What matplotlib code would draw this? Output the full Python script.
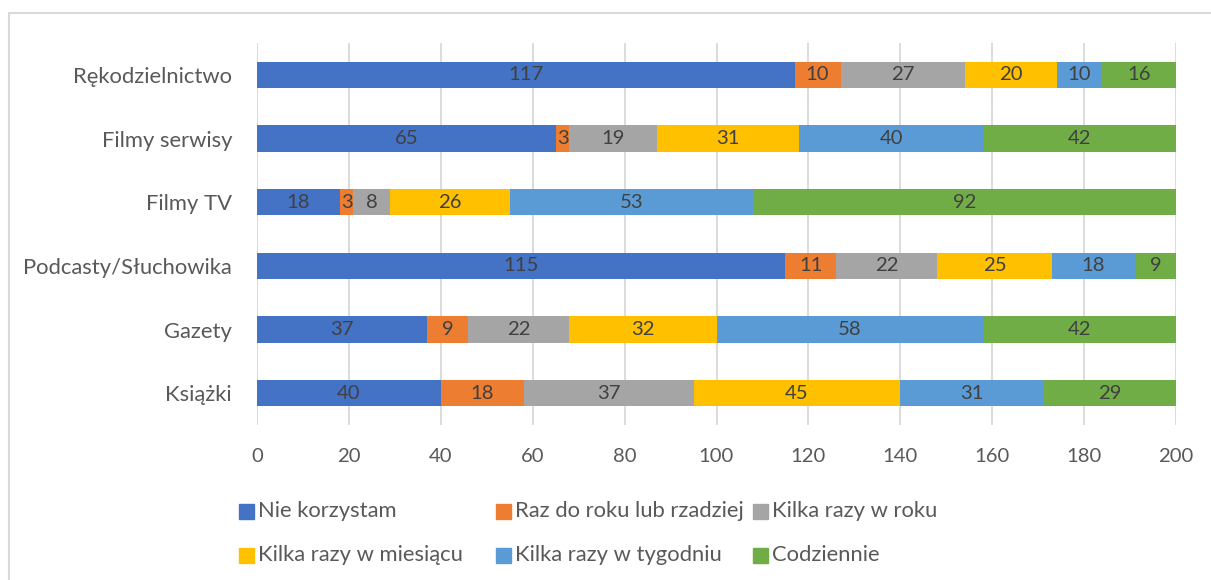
import matplotlib.pyplot as plt
from matplotlib.patches import Rectangle
import numpy as np

plt.rcParams['font.family'] = ['Lato', 'DejaVu Sans']

categories = ['Rękodzielnictwo', 'Filmy serwisy', 'Filmy TV',
              'Podcasty/Słuchowika', 'Gazety', 'Książki']
series_names = ['Nie korzystam', 'Raz do roku lub rzadziej', 'Kilka razy w roku',
                'Kilka razy w miesiącu', 'Kilka razy w tygodniu', 'Codziennie']
nie_korzystam = [117, 65, 18, 115, 37, 40]
raz_do_roku = [10, 3, 3, 11, 9, 18]
kilka_w_roku = [27, 19, 8, 22, 22, 37]
kilka_w_miesiacu = [20, 31, 26, 25, 32, 45]
kilka_w_tygodniu = [10, 40, 53, 18, 58, 31]
codziennie = [16, 42, 92, 9, 42, 29]
colors = ['#4472C4', '#ED7D31', '#A5A5A5', '#FFC000', '#5B9BD5', '#70AD47']

series = [nie_korzystam, raz_do_roku, kilka_w_roku,
          kilka_w_miesiacu, kilka_w_tygodniu, codziennie]

W, H = 1211, 580
NUM_FS = 14.6   # numbers
TXT_FS = 15.8   # category labels and legend

fig = plt.figure(figsize=(W / 100, H / 100), dpi=100)
ax = fig.add_axes([257 / W, 1 - 425 / H, (1176 - 257) / W, (425 - 43) / H])

# chart border (Excel style)
fig.patches.append(Rectangle((9 / W, -0.05), 1.1, 1 - 13 / H + 0.05,
                             transform=fig.transFigure, fill=False,
                             edgecolor='#D9D9D9', linewidth=1.5))

y = np.arange(len(categories))
left = np.zeros(len(categories))
for vals, name, c in zip(series, series_names, colors):
    bars = ax.barh(y, vals, left=left, height=0.41, color=c, label=name, zorder=3)
    ax.bar_label(bars, labels=[str(v) for v in vals], label_type='center',
                 color='#404040', fontsize=NUM_FS)
    left += np.array(vals)

ax.set_xlim(0, 200)
ax.set_ylim(len(categories) - 0.5, -0.5)
ax.set_xticks(range(0, 201, 20))
ax.set_yticks(y)
ax.set_yticklabels(categories, fontsize=TXT_FS)
ax.tick_params(axis='both', length=0, colors='#595959')
ax.tick_params(axis='x', pad=16.5, labelsize=NUM_FS)
ax.tick_params(axis='y', pad=18)
ax.grid(axis='x', color='#D9D9D9', linewidth=1.3, zorder=0)
for s in ax.spines.values():
    s.set_visible(False)

# legend, 3 equal columns like Excel
col_x = [239, 496, 753]
row_y = [511, 555]
for i, (name, c) in enumerate(zip(series_names, colors)):
    cx = col_x[i % 3]
    cy = row_y[i // 3]
    fig.patches.append(Rectangle((cx / W, 1 - (cy + 7.5) / H), 15 / W, 15 / H,
                                 transform=fig.transFigure, color=c))
    fig.text((cx + 19) / W, 1 - cy / H, name, fontsize=TXT_FS,
             color='#595959', va='center', ha='left')

fig.savefig('out.png', dpi=100)
